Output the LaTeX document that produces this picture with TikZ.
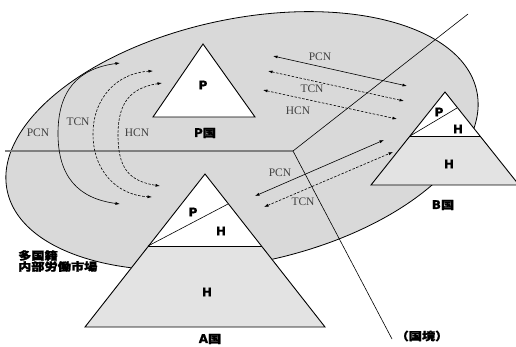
\documentclass[tikz,border=0pt]{standalone}
\usepackage{fontspec}
\setmainfont{Liberation Serif}
\newfontfamily\jpfont{Noto Sans CJK JP}[BoldFeatures={FakeBold=1.5}]
\newfontfamily\lbfont{DejaVu Sans}[BoldFeatures={FakeBold=1}]
\usepackage{graphicx}
\usetikzlibrary{arrows.meta}

\newcommand{\jp}[1]{\scalebox{1.2}[1]{\jpfont\bfseries\fontsize{11}{13}\selectfont #1}}

\begin{document}
\begin{tikzpicture}[x=1pt, y=-1pt,
  cn/.style={{Latex[length=4.5pt,width=3pt]}-{Latex[length=4.5pt,width=3pt]}, line width=0.6pt},
  cndash/.style={cn, dash pattern=on 2.5pt off 1.5pt},
  cnlabel/.style={text=black!75, font=\fontsize{11.5}{12}\selectfont, inner sep=0pt},
  tri/.style={draw, line width=0.9pt, line join=miter},
  blbl/.style={font=\lbfont\bfseries\fontsize{12}{12}\selectfont, inner sep=0pt}]
  \useasboundingbox (0,0) rectangle (516,347);
  % labour market
  \draw[fill=black!15, line width=0.8pt, rotate around={12:(242,141)}] (242,141) ellipse [x radius=240, y radius=122];
  % borders
  \coordinate (junc) at (293,151);
  \coordinate (westend) at (5,151);
  \coordinate (northend) at (468,14);
  \coordinate (southend) at (392,339);
  \draw[black!50, line width=1.1pt] (westend) -- (junc);
  \draw[line width=0.6pt] (junc) -- (northend);
  \draw[line width=0.6pt] (junc) -- (southend);
  % arcs on the left
  \coordinate (pcnT) at (120,63);  \coordinate (pcnM) at (58,133.5);  \coordinate (pcnB) at (120,204);
  \coordinate (tcnT) at (153,71);  \coordinate (tcnM) at (93,134);    \coordinate (tcnB) at (152,197);
  \coordinate (hcnT) at (162,83);  \coordinate (hcnM) at (118,135);   \coordinate (hcnB) at (160,186);
  \draw[cn] (pcnT) .. controls +(-42,5.5) and +(0,-43) .. (pcnM) .. controls +(0,43) and +(-42,-5.5) .. (pcnB);
  \draw[cndash] (tcnT) .. controls +(-36,2) and +(0,-36) .. (tcnM) .. controls +(0,36) and +(-36,-2) .. (tcnB);
  \draw[cndash] (hcnT) .. controls +(-32,5) and +(0,-32) .. (hcnM) .. controls +(0,32) and +(-32,-5) .. (hcnB);
  \node[cnlabel] (pcnl) at (38,133) {PCN};
  \node[cnlabel] (tcnl) at (78,122) {TCN};
  \node[cnlabel] (hcnl) at (137,133) {HCN};
  % P -- B
  \coordinate (pb1) at (273,56);  \coordinate (pb2) at (407,86);
  \coordinate (pb3) at (268,71);  \coordinate (pb4) at (404,101);
  \coordinate (pb5) at (263,90);  \coordinate (pb6) at (397,119);
  \draw[cn] (pb1) -- (pb2);
  \draw[cndash] (pb3) -- (pb4);
  \draw[cndash] (pb5) -- (pb6);
  \node[cnlabel] (pbpcn) at (320,57) {PCN};
  \node[cnlabel] (pbtcn) at (312,89) {TCN};
  \node[cnlabel] (pbhcn) at (298,111) {HCN};
  % A -- B
  \coordinate (ab1) at (255,196);  \coordinate (ab2) at (384,140);
  \coordinate (ab3) at (264,207);  \coordinate (ab4) at (393,152);
  \draw[cn] (ab1) -- (ab2);
  \draw[cndash] (ab3) -- (ab4);
  \node[cnlabel] (abpcn) at (280,173) {PCN};
  \node[cnlabel] (abtcn) at (303,202) {TCN};
  % P country
  \filldraw[tri, fill=white] (203,44) -- (255,117) -- (153,117) -- cycle;
  \node[blbl] (pP) at (203,85) {P};
  \node[blbl] (pname) at (205,133) {P\jp{国}};
  % A country
  \fill[black!11] (148,246) -- (262,246) -- (325,327) -- (85,327) -- cycle;
  \fill[white] (205,174) -- (262,246) -- (148,246) -- cycle;
  \draw[tri] (205,174) -- (325,327) -- (85,327) -- cycle;
  \draw[tri] (148,246) -- (262,246);
  \draw[line width=0.6pt] (148,246) -- (228,204);
  \node[blbl] (aP) at (193,212) {P};
  \node[blbl] (aH) at (221,231) {H};
  \node[blbl] (aH2) at (207,292) {H};
  \node[blbl] (aname) at (210,339) {A\jp{国}};
  % B country
  \fill[black!11] (410,136) -- (480,136) -- (519,185) -- (371,185) -- cycle;
  \fill[white] (445,92) -- (480,136) -- (410,136) -- cycle;
  \draw[tri] (445,92) -- (519,185) -- (371,185) -- cycle;
  \draw[tri] (410,136) -- (480,136);
  \draw[line width=0.6pt] (410,136) -- (457,108);
  \node[blbl] (bP) at (439,112) {P};
  \node[blbl] (bH) at (458,129) {H};
  \node[blbl] (bH2) at (449,164) {H};
  \node[blbl] (bname) at (443,205) {B\jp{国}};
  % texts
  \node[anchor=west, align=left, inner sep=0pt] (market) at (18,261) {\jp{多国籍}\\[-1pt]\jp{内部労働市場}};
  \node[inner sep=0pt] (border) at (422,336) {\jp{（国境）}};
\end{tikzpicture}
\end{document}
